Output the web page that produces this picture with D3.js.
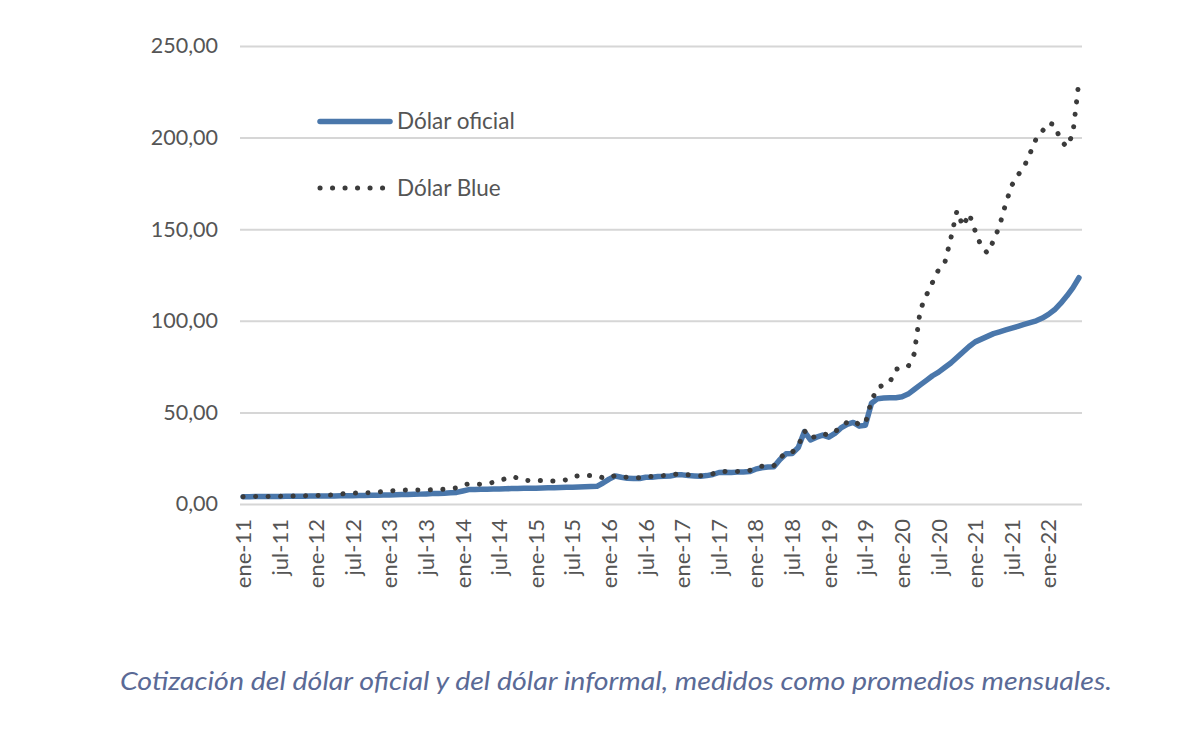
<!DOCTYPE html>
<html>
<head>
<meta charset="utf-8">
<script src="https://cdn.jsdelivr.net/npm/d3@7"></script>
<style>
  body { margin: 0; background: #fff; }
  svg { display: block; }
</style>
</head>
<body>
<div id="chart"></div>
<script>
// categories: monthly, ene-11 .. jun-22
var monthNames = ["ene", "feb", "mar", "abr", "may", "jun", "jul", "ago", "sep", "oct", "nov", "dic"];
var years = ["11", "12", "13", "14", "15", "16", "17", "18", "19", "20", "21", "22"];
var lastMonthCount = 6; // 2022 ends in jun

var yTicks = [0, 50, 100, 150, 200, 250];

// Dólar oficial, monthly average
var oficial = [
  3.97, 3.99, 4.03, 4.05, 4.08, 4.10, 4.12, 4.17, 4.20, 4.22, 4.27, 4.30,   // 2011
  4.33, 4.35, 4.36, 4.40, 4.45, 4.50, 4.56, 4.62, 4.68, 4.74, 4.80, 4.88,   // 2012
  4.95, 5.02, 5.12, 5.18, 5.28, 5.39, 5.51, 5.67, 5.79, 5.91, 6.14, 6.33,   // 2013
  7.11, 7.86, 7.93, 8.00, 8.04, 8.13, 8.16, 8.31, 8.42, 8.48, 8.53, 8.55,   // 2014
  8.64, 8.72, 8.81, 8.89, 8.97, 9.08, 9.18, 9.30, 9.42, 9.53, 9.65, 11.45,  // 2015
  13.6, 15.3, 14.6, 14.0, 13.9, 13.9, 14.6, 14.6, 15.0, 15.1, 15.3, 15.9,   // 2016
  15.9, 15.5, 15.3, 15.1, 15.5, 16.1, 17.2, 17.3, 17.2, 17.4, 17.5, 17.7,   // 2017
  19.0, 19.8, 20.2, 20.3, 24.3, 27.4, 27.6, 30.8, 39.5, 35.0, 36.5, 37.6,   // 2018
  36.5, 38.5, 41.5, 43.5, 44.5, 42.5, 43.0, 55.0, 57.5, 57.8, 58.0, 58.0,   // 2019
  58.5, 60.0, 62.5, 65.0, 67.5, 70.0, 72.0, 74.5, 77.0, 80.0, 83.0, 86.0,   // 2020
  88.5, 90.0, 91.5, 93.0, 94.0, 95.0, 96.0, 97.0, 98.0, 99.0, 100.0, 101.5, // 2021
  103.5, 106.0, 109.5, 113.5, 118.0, 123.5                                   // 2022
];

// Dólar Blue, monthly average
var blue = [
  4.00, 4.02, 4.05, 4.08, 4.10, 4.13, 4.18, 4.25, 4.30, 4.38, 4.45, 4.55,   // 2011
  4.65, 4.75, 4.85, 5.00, 5.40, 5.80, 5.90, 6.00, 6.10, 6.20, 6.45, 6.80,   // 2012
  7.10, 7.40, 7.55, 7.60, 7.70, 7.65, 7.65, 7.75, 7.90, 8.10, 8.40, 8.80,   // 2013
  10.4, 11.0, 10.9, 10.8, 11.2, 11.8, 12.8, 13.8, 15.0, 14.2, 13.0, 12.8,   // 2014
  12.8, 12.8, 12.6, 12.6, 12.7, 13.2, 14.8, 15.4, 15.6, 15.6, 15.3, 14.3,   // 2015
  14.2, 15.6, 15.0, 14.5, 14.3, 14.3, 15.0, 15.0, 15.4, 15.5, 15.7, 16.3,   // 2016
  16.2, 15.9, 15.6, 15.4, 15.8, 16.5, 17.8, 17.8, 17.6, 17.8, 17.9, 18.3,   // 2017
  19.6, 20.6, 20.8, 20.9, 25.0, 28.2, 28.3, 31.5, 40.0, 35.8, 37.2, 38.4,   // 2018
  37.5, 39.3, 42.6, 44.6, 45.5, 43.3, 44.0, 56.5, 63.5, 65.0, 66.5, 73.5,   // 2019
  74.5, 75.0, 82.0, 106.0, 114.0, 121.0, 128.0, 131.5, 145.0, 160.0, 151.5, 158.5, // 2020
  149.0, 140.5, 137.0, 143.7, 152.0, 164.0, 174.0, 179.5, 184.0, 191.5, 199.5, 203.5, // 2021
  208.0, 207.0, 198.5, 195.0, 202.0, 231.0                                   // 2022
];

var seriesNames = ["Dólar oficial", "Dólar Blue"];
var caption = "Cotización del dólar oficial y del dólar informal, medidos como promedios mensuales.";

var months = [];
years.forEach(function(yy, yi) {
  var n = yi === years.length - 1 ? lastMonthCount : 12;
  for (var m = 0; m < n; m++) months.push(monthNames[m] + "-" + yy);
});

var blueColor = "#4a77ab";
var dotColor = "#3b3b3b";
var textColor = "#555555";
var fontFamily = "Lato, 'Open Sans', sans-serif";

var margin = {top: 46, right: 118, bottom: 236, left: 240},
    width = 1200 - margin.left - margin.right,
    height = 740 - margin.top - margin.bottom;

var svg = d3.select("#chart")
  .append("svg")
    .attr("width", 1200)
    .attr("height", 740);

var g = svg.append("g")
    .attr("transform", "translate(" + margin.left + "," + margin.top + ")");

var x = d3.scaleBand()
  .domain(months)
  .range([0, width])
  .padding(0);

var y = d3.scaleLinear()
  .domain([0, 250])
  .range([height, 0]);

var fmt = function(d) { return d3.format(".2f")(d).replace(".", ","); };

// Y axis with gridlines
var yAxis = g.append("g")
  .call(d3.axisLeft(y).tickValues(yTicks).tickSize(-width).tickPadding(22).tickFormat(fmt));
yAxis.select(".domain").remove();
yAxis.selectAll("line")
  .attr("stroke", "#d6d6d6")
  .attr("stroke-width", 2);
yAxis.selectAll("text")
  .attr("fill", textColor)
  .style("font-family", fontFamily)
  .style("font-size", "21.5px");

// X axis, label every six months
var xAxis = g.append("g")
  .attr("transform", "translate(0," + height + ")")
  .call(d3.axisBottom(x)
    .tickValues(months.filter(function(d, i) { return i % 6 === 0; }))
    .tickSize(0));
xAxis.select(".domain").remove();
xAxis.selectAll("text")
  .attr("transform", "rotate(-90)")
  .attr("x", -15)
  .attr("y", 0)
  .attr("dy", "0.36em")
  .style("text-anchor", "end")
  .attr("fill", textColor)
  .style("font-family", fontFamily)
  .style("font-size", "22px");

var line = d3.line()
  .x(function(d, i) { return x(months[i]) + x.bandwidth() / 2; })
  .y(function(d) { return y(d); });

g.append("path")
  .datum(oficial)
  .attr("fill", "none")
  .attr("stroke", blueColor)
  .attr("stroke-width", 5.5)
  .attr("stroke-linejoin", "round")
  .attr("stroke-linecap", "round")
  .attr("d", line);

g.append("path")
  .datum(blue)
  .attr("fill", "none")
  .attr("stroke", dotColor)
  .attr("stroke-width", 5)
  .attr("stroke-linecap", "round")
  .attr("stroke-dasharray", "0.1,12.4")
  .attr("d", line);

// legend
var legend = svg.append("g").attr("transform", "translate(320,0)");
var legendY = [121.5, 188];
seriesNames.forEach(function(name, i) {
  var row = legend.append("g").attr("transform", "translate(0," + legendY[i] + ")");
  row.append("line")
    .attr("x1", 0).attr("x2", i === 0 ? 70 : 68)
    .attr("stroke", i === 0 ? blueColor : dotColor)
    .attr("stroke-width", i === 0 ? 5.5 : 5)
    .attr("stroke-linecap", "round")
    .attr("stroke-dasharray", i === 0 ? null : "0.1,12.4");
  row.append("text")
    .attr("x", 77)
    .attr("dy", "0.35em")
    .attr("fill", textColor)
    .style("font-family", fontFamily)
    .style("font-size", "22.5px")
    .text(name);
});

// caption
svg.append("text")
  .attr("x", 120)
  .attr("y", 690)
  .attr("textLength", 992)
  .attr("lengthAdjust", "spacingAndGlyphs")
  .attr("fill", "#5a6a96")
  .style("font-family", fontFamily)
  .style("font-style", "italic")
  .style("font-size", "25px")
  .text(caption);
</script>
</body>
</html>
